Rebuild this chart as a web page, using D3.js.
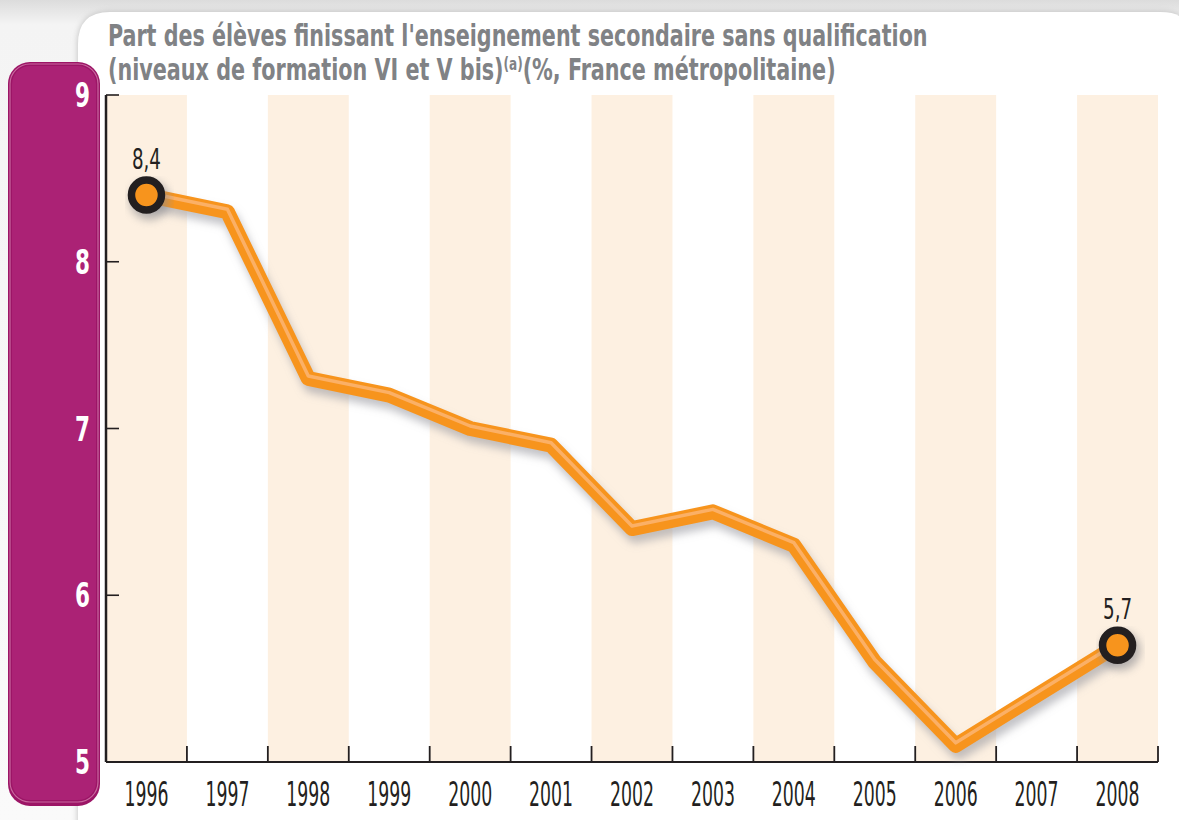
<!DOCTYPE html>
<html>
<head>
<meta charset="utf-8">
<script src="https://cdn.jsdelivr.net/npm/d3@7"></script>
<style>
  body { margin: 0; background: #fff; }
  svg { display: block; }
  text { font-family: "Liberation Sans Narrow", "DejaVu Sans Condensed", "Roboto", sans-serif; }
</style>
</head>
<body>
<svg id="chart"></svg>
<script>
const width = 1179;
const height = 820;

const years = ["1996", "1997", "1998", "1999", "2000", "2001", "2002", "2003", "2004", "2005", "2006", "2007", "2008"];
const values = [8.4, 8.3, 7.3, 7.2, 7.0, 6.9, 6.4, 6.5, 6.3, 5.6, 5.1, 5.4, 5.7];
const yTicks = [5, 6, 7, 8, 9];
const labelled = ["1996", "2008"];   // end points with circle + value

const svg = d3.select("#chart")
  .attr("width", width)
  .attr("height", height);

const defs = svg.append("defs");
const bg = defs.append("linearGradient").attr("id", "bgGrad").attr("x1", 0).attr("y1", 0).attr("x2", 0).attr("y2", 1);
bg.append("stop").attr("offset", "0").attr("stop-color", "#dcdcdc");
bg.append("stop").attr("offset", "0.03").attr("stop-color", "#f4f4f4");
bg.append("stop").attr("offset", "1").attr("stop-color", "#fafafa");

const shadow = defs.append("filter").attr("id", "shadow")
  .attr("x", "-10%").attr("y", "-10%").attr("width", "120%").attr("height", "130%");
shadow.append("feGaussianBlur").attr("stdDeviation", 4);

const cardShadow = defs.append("filter").attr("id", "cardShadow")
  .attr("x", "-5%").attr("y", "-5%").attr("width", "110%").attr("height", "110%");
cardShadow.append("feGaussianBlur").attr("stdDeviation", 3);

// background + card
svg.append("rect").attr("width", width).attr("height", height).attr("fill", "url(#bgGrad)");
const cardPath = "M78,830 L78,44 Q78,12 110,12 L1160,12 Q1179,12 1182,20 L1182,830 Z";
svg.append("path").attr("d", cardPath).attr("fill", "#bdbdbd").attr("filter", "url(#cardShadow)");
svg.append("path").attr("d", cardPath).attr("fill", "#fff");

// purple side panel
svg.append("rect")
  .attr("x", 8).attr("y", 62).attr("width", 92).attr("height", 744)
  .attr("rx", 22)
  .attr("fill", "#9c1566");
svg.append("rect")
  .attr("x", 10).attr("y", 64).attr("width", 88).attr("height", 738)
  .attr("rx", 20)
  .attr("fill", "none")
  .attr("stroke", "#c9689f").attr("stroke-width", 1.2);
svg.append("rect")
  .attr("x", 12).attr("y", 66).attr("width", 84).attr("height", 734)
  .attr("rx", 18)
  .attr("fill", "#ab2275");

const margin = { left: 106, right: 1158, top: 95, bottom: 762 };

const x = d3.scaleBand()
  .domain(years)
  .range([margin.left, margin.right])
  .padding(0);

const y = d3.scaleLinear()
  .domain([5, 9])
  .range([margin.bottom, margin.top]);

// alternating bands
svg.append("g").selectAll("rect")
  .data(years.filter((d, i) => i % 2 === 0))
  .join("rect")
  .attr("x", d => x(d))
  .attr("y", margin.top)
  .attr("width", x.bandwidth())
  .attr("height", margin.bottom - margin.top)
  .attr("fill", "#fdf0e1");

// axes
const axisColor = "#231f20";
const bottom = svg.append("g");
bottom.append("line")
  .attr("x1", margin.left).attr("x2", margin.right)
  .attr("y1", margin.bottom).attr("y2", margin.bottom)
  .attr("stroke", axisColor).attr("stroke-width", 2);
bottom.selectAll("line.tick")
  .data(years.slice(1).concat(["end"]))
  .join("line")
  .attr("class", "tick")
  .attr("x1", d => d === "end" ? margin.right : x(d))
  .attr("x2", d => d === "end" ? margin.right : x(d))
  .attr("y1", margin.bottom)
  .attr("y2", margin.bottom - 16)
  .attr("stroke", axisColor).attr("stroke-width", 1.8);
bottom.selectAll("text")
  .data(years)
  .join("text")
  .attr("x", d => x(d) + x.bandwidth() / 2)
  .attr("y", 806)
  .attr("text-anchor", "middle")
  .attr("font-size", 33)
  .attr("textLength", 44)
  .attr("lengthAdjust", "spacingAndGlyphs")
  .attr("fill", axisColor)
  .text(d => d);

const left = svg.append("g");
left.append("line")
  .attr("x1", margin.left).attr("x2", margin.left)
  .attr("y1", margin.top).attr("y2", margin.bottom)
  .attr("stroke", axisColor).attr("stroke-width", 2.5);
left.selectAll("line.tick")
  .data(yTicks.slice(1))
  .join("line")
  .attr("class", "tick")
  .attr("x1", margin.left).attr("x2", margin.left + 13)
  .attr("y1", d => y(d)).attr("y2", d => y(d))
  .attr("stroke", axisColor).attr("stroke-width", 1.6);
left.selectAll("text")
  .data(yTicks)
  .join("text")
  .attr("x", 90)
  .attr("y", d => y(d) + 12)
  .attr("text-anchor", "end")
  .attr("font-size", 33)
  .attr("font-weight", "bold")
  .attr("textLength", 15)
  .attr("lengthAdjust", "spacingAndGlyphs")
  .attr("fill", "#fff")
  .text(d => d);

// line
const pts = years.map((d, i) => [x(d) + x.bandwidth() / 2, y(values[i])]);
const line = d3.line();

svg.append("path")
  .attr("d", line(pts.map(p => [p[0] + 3, p[1] + 7])))
  .attr("fill", "none")
  .attr("stroke", "#9a9aa0")
  .attr("stroke-opacity", 0.6)
  .attr("stroke-width", 15)
  .attr("stroke-linejoin", "round")
  .attr("filter", "url(#shadow)");
svg.append("path")
  .attr("d", line(pts))
  .attr("fill", "none")
  .attr("stroke", "#f7941d")
  .attr("stroke-width", 15)
  .attr("stroke-linejoin", "round");
svg.append("path")
  .attr("d", line(pts.map(p => [p[0], p[1] - 2.5])))
  .attr("fill", "none")
  .attr("stroke", "#fbb066")
  .attr("stroke-width", 3.5)
  .attr("stroke-linejoin", "round");

// end points
const ends = years.map((d, i) => ({ year: d, value: values[i], p: pts[i] }))
  .filter(d => labelled.includes(d.year));
svg.append("g").selectAll("circle")
  .data(ends)
  .join("circle")
  .attr("cx", d => d.p[0] + 3).attr("cy", d => d.p[1] + 5)
  .attr("r", 20)
  .attr("fill", "#8a8a90").attr("opacity", 0.6)
  .attr("filter", "url(#shadow)");
svg.append("g").selectAll("circle")
  .data(ends)
  .join("circle")
  .attr("cx", d => d.p[0]).attr("cy", d => d.p[1])
  .attr("r", 15)
  .attr("fill", "#f7941d")
  .attr("stroke", "#231f20")
  .attr("stroke-width", 7.5);
svg.append("g").selectAll("text")
  .data(ends)
  .join("text")
  .attr("x", d => d.p[0])
  .attr("y", d => d.p[1] - 26)
  .attr("text-anchor", "middle")
  .attr("font-size", 28)
  .attr("textLength", 29)
  .attr("lengthAdjust", "spacingAndGlyphs")
  .attr("fill", axisColor)
  .text(d => String(d.value).replace(".", ","));

// title (each line squeezed horizontally to the reference width)
const title = svg.append("g").attr("fill", "#808285").attr("font-weight", "bold");
const t1 = title.append("text")
  .attr("x", 108).attr("y", 46)
  .attr("font-size", 31)
  .text("Part des élèves finissant l'enseignement secondaire sans qualification");
const t2 = title.append("text")
  .attr("x", 108).attr("y", 80)
  .attr("font-size", 31);
t2.append("tspan").text("(niveaux de formation VI et V bis)");
t2.append("tspan").attr("dy", -10).attr("font-size", 18).text("(a)");
t2.append("tspan").attr("dy", 10).text("(%, France métropolitaine)");

[[t1, 820], [t2, 728]].forEach(([t, target]) => {
  const w = t.node().getComputedTextLength();
  t.attr("transform", `translate(108,0) scale(${target / w},1) translate(-108,0)`);
});
</script>
</body>
</html>
